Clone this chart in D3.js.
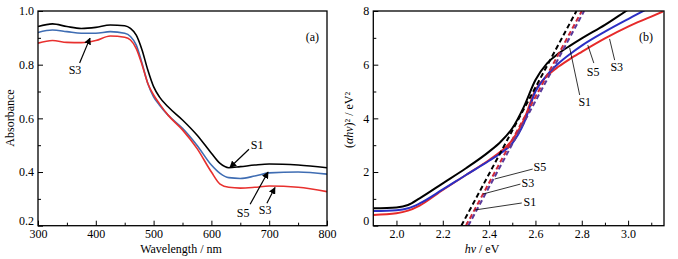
<!DOCTYPE html>
<html>
<head>
<meta charset="utf-8">
<script src="https://cdn.jsdelivr.net/npm/d3@7"></script>
<style>
body { margin: 0; background: #fff; }
text { font-family: "Liberation Serif", "Times New Roman", serif; }
</style>
</head>
<body>
<svg id="chart" width="678" height="259"></svg>
<script>
// panel (a): UV-vis absorbance
const wavelength = [300, 325, 350, 375, 400, 425, 450, 460, 470, 480, 490, 500, 510, 525, 550, 575, 600, 615, 630, 650, 675, 700, 750, 800];
const absS1 = [0.942, 0.952, 0.942, 0.935, 0.939, 0.948, 0.945, 0.935, 0.91, 0.855, 0.78, 0.718, 0.68, 0.643, 0.594, 0.538, 0.47, 0.432, 0.416, 0.42, 0.426, 0.43, 0.426, 0.416];
const absS5 = [0.92, 0.929, 0.923, 0.917, 0.917, 0.923, 0.917, 0.905, 0.873, 0.805, 0.73, 0.68, 0.65, 0.612, 0.563, 0.5, 0.426, 0.395, 0.379, 0.376, 0.385, 0.397, 0.4, 0.392];
const absS3 = [0.88, 0.89, 0.883, 0.882, 0.89, 0.907, 0.902, 0.892, 0.86, 0.8, 0.73, 0.687, 0.655, 0.612, 0.557, 0.488, 0.4, 0.355, 0.343, 0.34, 0.343, 0.348, 0.343, 0.327];

// panel (b): Tauc plot
const energy = [1.9, 2.0, 2.05, 2.1, 2.2, 2.3, 2.4, 2.45, 2.5, 2.55, 2.6, 2.65, 2.7, 2.75, 2.8, 2.9, 3.0, 3.1, 3.15];
const taucS1 = [0.646, 0.68, 0.77, 1.02, 1.58, 2.14, 2.76, 3.13, 3.63, 4.43, 5.43, 6.05, 6.42, 6.71, 6.98, 7.48, 8.05, 8.6, 8.9];
const taucS5 = [0.55, 0.58, 0.65, 0.83, 1.35, 1.89, 2.42, 2.7, 3.07, 3.81, 5.0, 5.61, 6.05, 6.4, 6.71, 7.23, 7.7, 8.15, 8.35];
const taucS3 = [0.4, 0.46, 0.56, 0.75, 1.33, 1.89, 2.45, 2.76, 3.19, 3.94, 5.06, 5.58, 5.93, 6.22, 6.48, 6.98, 7.42, 7.79, 7.98];
const tangentS1 = [[2.28, 0], [2.777, 8]];
const tangentS3 = [[2.30, 0], [2.80, 8]];
const tangentS5 = [[2.31, 0], [2.81, 8]];

const xTicksA = [300, 400, 500, 600, 700, 800];
const yTicksA = [0.2, 0.4, 0.6, 0.8, 1.0];
const xTicksB = [2.0, 2.2, 2.4, 2.6, 2.8, 3.0];
const yTicksB = [0, 2, 4, 6, 8];

// annotations: label position, arrow tail, arrow tip (data units)
const notesA = [
  {t: "S3", lx: 364, ly: 0.78, x1: 372, y1: 0.806, x2: 390, y2: 0.899},
  {t: "S1", lx: 679, ly: 0.50, x1: 665, y1: 0.485, x2: 632, y2: 0.417},
  {t: "S5", lx: 655, ly: 0.247, x1: 667, y1: 0.28, x2: 698, y2: 0.40},
  {t: "S3", lx: 693, ly: 0.258, x1: 696, y1: 0.284, x2: 710, y2: 0.342}
];
const notesB = [
  {t: "S5", lx: 2.849, ly: 5.73, x1: 2.852, y1: 6.06, x2: 2.826, y2: 6.73},
  {t: "S3", lx: 2.951, ly: 5.91, x1: 2.942, y1: 6.17, x2: 2.92, y2: 6.96},
  {t: "S1", lx: 2.813, ly: 4.61, x1: 2.791, y1: 4.87, x2: 2.748, y2: 6.62},
  {t: "S5", lx: 2.619, ly: 2.19, x1: 2.588, y1: 2.11, x2: 2.424, y2: 1.74},
  {t: "S3", lx: 2.567, ly: 1.59, x1: 2.535, y1: 1.55, x2: 2.373, y2: 1.18},
  {t: "S1", lx: 2.576, ly: 0.88, x1: 2.541, y1: 0.846, x2: 2.338, y2: 0.585}
];

const FS = 12;
const svg = d3.select("#chart");

svg.append("defs").append("marker")
  .attr("id", "head")
  .attr("viewBox", "0 0 10 10")
  .attr("refX", 9).attr("refY", 5)
  .attr("markerWidth", 7).attr("markerHeight", 7)
  .attr("markerUnits", "userSpaceOnUse")
  .attr("orient", "auto")
  .append("path").attr("d", "M0,0 L10,5 L0,10 z").attr("fill", "#000");

function panel(opt) {
  const g = svg.append("g");
  const x = d3.scaleLinear().domain(opt.xDomain).range([opt.left, opt.right]);
  const y = d3.scaleLinear().domain(opt.yDomain).range([opt.bottom, opt.top]);

  const clipId = "clip" + opt.id;
  svg.select("defs").append("clipPath").attr("id", clipId)
    .append("rect")
    .attr("x", opt.left).attr("y", opt.top)
    .attr("width", opt.right - opt.left).attr("height", opt.bottom - opt.top);

  // minor ticks
  g.append("g").attr("transform", `translate(0,${opt.bottom})`)
    .call(d3.axisBottom(x).tickValues(opt.xMinor).tickSize(-3).tickSizeOuter(0).tickFormat(""));
  g.append("g").attr("transform", `translate(${opt.left},0)`)
    .call(d3.axisLeft(y).tickValues(opt.yMinor).tickSize(-3).tickSizeOuter(0).tickFormat(""));

  // major ticks
  g.append("g").attr("transform", `translate(0,${opt.bottom})`)
    .call(d3.axisBottom(x).tickValues(opt.xTicks).tickSize(-5).tickSizeOuter(0)
      .tickPadding(4).tickFormat(opt.xFormat));
  const yAx = g.append("g").attr("transform", `translate(${opt.left},0)`)
    .call(d3.axisLeft(y).tickValues(opt.yTicks).tickSize(-5).tickSizeOuter(0)
      .tickPadding(4).tickFormat(opt.yFormat));
  // lowest y label sits just above the first x label
  yAx.selectAll(".tick text").filter(d => d === opt.yDomain[0]).attr("dy", "-0.06em");

  g.selectAll(".tick text").attr("font-size", FS).attr("fill", "#000")
    .style("font-family", '"Liberation Serif", serif');
  g.selectAll(".tick line").attr("stroke", "#000");
  g.selectAll(".domain").remove();

  // series
  const plot = g.append("g").attr("clip-path", `url(#${clipId})`);
  const line = d3.line().x(d => x(d[0])).y(d => y(d[1])).curve(d3.curveMonotoneX);
  opt.series.forEach(s => {
    plot.append("path")
      .datum(opt.xs.map((v, i) => [v, s.values[i]]))
      .attr("fill", "none")
      .attr("stroke", s.color)
      .attr("stroke-width", opt.lineWidth)
      .attr("d", line);
  });
  (opt.tangents || []).forEach(s => {
    plot.append("path")
      .datum(s.values)
      .attr("fill", "none")
      .attr("stroke", s.color)
      .attr("stroke-width", 2)
      .attr("stroke-dasharray", "5,3")
      .attr("d", d3.line().x(d => x(d[0])).y(d => y(d[1])));
  });

  // frame
  g.append("rect")
    .attr("x", opt.left).attr("y", opt.top)
    .attr("width", opt.right - opt.left).attr("height", opt.bottom - opt.top)
    .attr("fill", "none").attr("stroke", "#000").attr("stroke-width", 1.3);

  // annotations
  opt.notes.forEach(n => {
    g.append("line")
      .attr("x1", x(n.x1)).attr("y1", y(n.y1))
      .attr("x2", x(n.x2)).attr("y2", y(n.y2))
      .attr("stroke", "#000")
      .attr("stroke-width", opt.arrows ? 1.2 : 0.8)
      .attr("marker-end", opt.arrows ? "url(#head)" : null);
    g.append("text")
      .attr("x", x(n.lx)).attr("y", y(n.ly))
      .attr("dy", "0.35em")
      .attr("text-anchor", "middle")
      .attr("font-size", FS)
      .text(n.t);
  });

  g.append("text")
    .attr("x", opt.right - opt.tagPad).attr("y", opt.top + 30)
    .attr("text-anchor", "end").attr("font-size", FS)
    .text(opt.tag);

  return {g, x, y};
}

// panel (a)
const pa = panel({
  id: "a", left: 38, right: 327, top: 11, bottom: 225.7,
  xDomain: [300, 800], yDomain: [0.2, 1.0],
  xTicks: xTicksA, yTicks: yTicksA,
  xMinor: [350, 450, 550, 650, 750], yMinor: [0.3, 0.5, 0.7, 0.9],
  xFormat: d3.format("d"), yFormat: d3.format(".1f"),
  xs: wavelength,
  series: [
    {values: absS1, color: "#000000"},
    {values: absS5, color: "#3f6db3"},
    {values: absS3, color: "#e8302e"}
  ],
  lineWidth: 1.6, notes: notesA, arrows: true, tag: "(a)", tagPad: 8
});
pa.g.append("text")
  .attr("x", 181).attr("y", 252.5)
  .attr("text-anchor", "middle").attr("font-size", FS)
  .text("Wavelength / nm");
pa.g.append("text")
  .attr("transform", "translate(14,118) rotate(-90)")
  .attr("text-anchor", "middle").attr("font-size", FS)
  .text("Absorbance");

// panel (b)
const pb = panel({
  id: "b", left: 373.3, right: 664, top: 11, bottom: 225.7,
  xDomain: [1.9, 3.155], yDomain: [0, 8],
  xTicks: xTicksB, yTicks: yTicksB,
  xMinor: [2.1, 2.3, 2.5, 2.7, 2.9, 3.1], yMinor: [1, 3, 5, 7],
  xFormat: d3.format(".1f"), yFormat: d3.format("d"),
  xs: energy,
  series: [
    {values: taucS1, color: "#000000"},
    {values: taucS3, color: "#e62a2a"},
    {values: taucS5, color: "#2b2fc4"}
  ],
  tangents: [
    {values: tangentS1, color: "#000000"},
    {values: tangentS3, color: "#d0283a"},
    {values: tangentS5, color: "#5a3a9a"}
  ],
  lineWidth: 2, notes: notesB, arrows: false, tag: "(b)", tagPad: 11
});
const xl = pb.g.append("text")
  .attr("x", 482).attr("y", 252.5)
  .attr("text-anchor", "middle").attr("font-size", FS);
xl.append("tspan").attr("font-style", "italic").text("hν");
xl.append("tspan").text(" / eV");
const yl = pb.g.append("text")
  .attr("transform", "translate(353,120) rotate(-90)")
  .attr("text-anchor", "middle").attr("font-size", FS);
yl.append("tspan").text("(");
yl.append("tspan").attr("font-style", "italic").text("αhν");
yl.append("tspan").text(")² / eV²");
</script>
</body>
</html>
